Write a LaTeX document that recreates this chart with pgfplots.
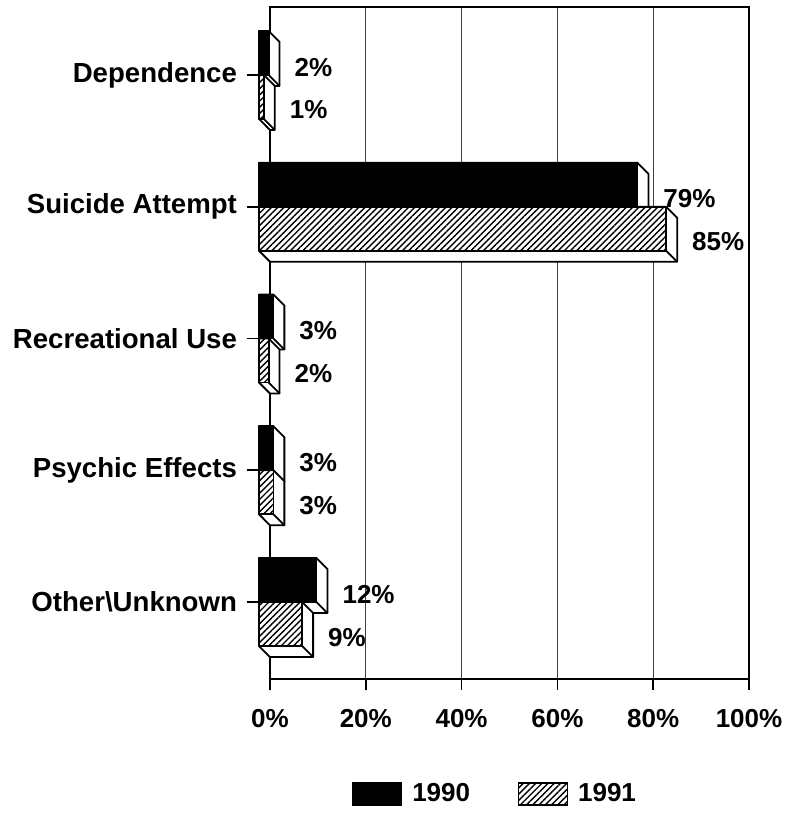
\documentclass[border=0pt]{standalone}
\usepackage{fontspec}
\setmainfont{Liberation Sans}
\usepackage{pgfplots}
\pgfplotsset{compat=1.18}
\usetikzlibrary{patterns.meta}

% depth of the extruded bars (x in percent, y in category units) and bar height
\newcommand{\depthx}{2.29}
\newcommand{\depthy}{0.0835}
\newcommand{\barh}{0.334}

\tikzset{hatch/.style={pattern={Lines[angle=45,distance=2.2pt,line width=0.7pt]}}}

% \boxbar{category y}{0 = upper bar, 1 = lower bar}{value}{face style}
\newcommand{\boxbar}[4]{%
  \pgfmathsetmacro{\bbxL}{-\depthx}%
  \pgfmathsetmacro{\bbxR}{#3-\depthx}%
  \pgfmathsetmacro{\bbyT}{#1+\barh-#2*\barh}%
  \pgfmathsetmacro{\bbyB}{#1-#2*\barh}%
  \pgfmathsetmacro{\bbyTb}{\bbyT-\depthy}%
  \pgfmathsetmacro{\bbyBb}{\bbyB-\depthy}%
  \addplot[forget plot, fill=white, draw=black, line width=0.9pt, line join=round]
    coordinates {(\bbxL,\bbyT) (\bbxR,\bbyT) (#3,\bbyTb) (#3,\bbyBb) (0,\bbyBb) (\bbxL,\bbyB)} -- cycle;
  \addplot[forget plot, draw=black, line width=0.9pt]
    coordinates {(\bbxR,\bbyB) (#3,\bbyBb)};
  \addplot[forget plot, #4, draw=black, line width=0.9pt, line join=round]
    coordinates {(\bbxL,\bbyT) (\bbxR,\bbyT) (\bbxR,\bbyB) (\bbxL,\bbyB)} -- cycle;
}

\begin{document}
\begin{tikzpicture}
\begin{axis}[
  scale only axis,
  width=239.5pt, height=336pt,
  xmin=0, xmax=100,
  ymin=-0.584, ymax=4.516,
  clip=false,
  /pgf/number format/assume math mode=true,
  xtick={0,20,40,60,80,100},
  xticklabels={0\%,20\%,40\%,60\%,80\%,100\%},
  ytick={0,1,2,3,4},
  yticklabels={Other\textbackslash Unknown, Psychic Effects, Recreational Use, Suicide Attempt, Dependence},
  xmajorgrids,
  grid style={black!75, line width=0.45pt},
  tick align=outside,
  xtick pos=bottom, ytick pos=left,
  major tick length=5.5pt,
  ytick style={/pgfplots/major tick length=11.5pt},
  tick style={black, line width=0.8pt},
  axis line style={line width=1pt},
  xticklabel style={font=\fontsize{13}{15}\selectfont\bfseries, yshift=-6pt},
  yticklabel style={font=\fontsize{13.8}{16}\selectfont\bfseries, xshift=-7.5pt},
  legend style={at={(0.472,-0.171)}, anchor=center, draw=none, fill=none,
    legend columns=2, font=\fontsize{13}{15}\selectfont\bfseries,
    /tikz/every even column/.append style={column sep=22pt}},
  legend image code/.code={\draw[#1, line width=0.6pt] (0pt,-5.5pt) rectangle (24.5pt,5.5pt);
    \path (27.5pt,0pt);},
]
\addlegendimage{fill=black}
\addlegendentry{1990}
\addlegendimage{hatch}
\addlegendentry{1991}

% Dependence
\boxbar{4}{0}{2}{fill=black}
\boxbar{4}{1}{1}{hatch}
% Suicide Attempt
\boxbar{3}{0}{79}{fill=black}
\boxbar{3}{1}{85}{hatch}
% Recreational Use
\boxbar{2}{0}{3}{fill=black}
\boxbar{2}{1}{2}{hatch}
% Psychic Effects
\boxbar{1}{0}{3}{fill=black}
\boxbar{1}{1}{3}{hatch}
% Other\Unknown
\boxbar{0}{0}{12}{fill=black}
\boxbar{0}{1}{9}{hatch}

% value labels, 1990 and 1991
\addplot[forget plot, draw=none, point meta=x,
  nodes near coords={\pgfmathprintnumber{\pgfplotspointmeta}\%},
  nodes near coords style={anchor=west, xshift=4pt, font=\fontsize{13}{15}\selectfont\bfseries}]
  coordinates {(2,4.06) (79,3.06) (3,2.06) (3,1.06) (12,0.06)};
\addplot[forget plot, draw=none, point meta=x,
  nodes near coords={\pgfmathprintnumber{\pgfplotspointmeta}\%},
  nodes near coords style={anchor=west, xshift=4pt, font=\fontsize{13}{15}\selectfont\bfseries}]
  coordinates {(1,3.734) (85,2.734) (2,1.734) (3,0.734) (9,-0.266)};
\end{axis}
\path ([shift={(-135pt,3.5pt)}]current axis.north west) -- ([shift={(20pt,-68pt)}]current axis.south east);
\end{tikzpicture}
\end{document}
